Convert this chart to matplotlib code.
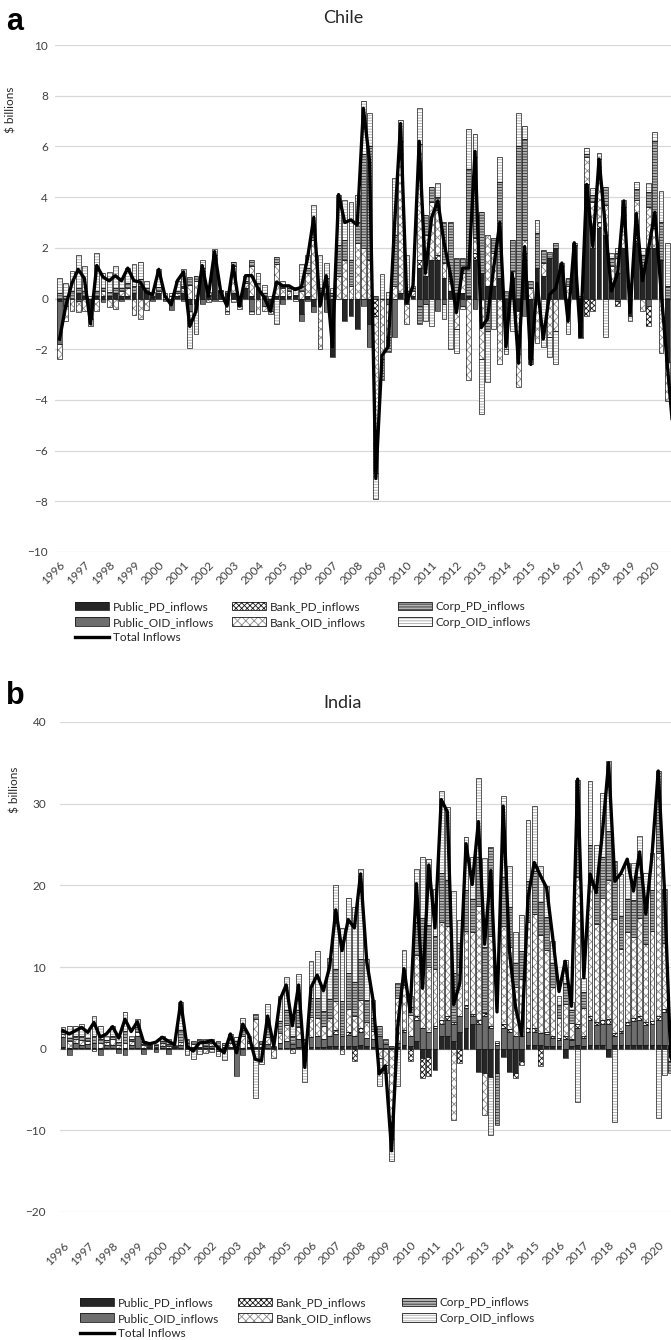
import matplotlib.pyplot as plt
from matplotlib.patches import Patch
from matplotlib.lines import Line2D
import numpy as np

plt.rcParams['font.family'] = ['Lato', 'DejaVu Sans']
plt.rcParams['hatch.linewidth'] = 0.6

year_labels = [str(y) for y in range(1996, 2021)]
series_names = ['Public_PD_inflows', 'Public_OID_inflows', 'Bank_PD_inflows',
                'Bank_OID_inflows', 'Corp_PD_inflows', 'Corp_OID_inflows']

#------------------------------------------------------------------------------
# Chile, quarterly 1996Q1-2020Q4, $ billions
chile_public_pd = [
    -0.1, 0, 0, 0.2, 0.1, -0.8, 0.1, 0.1, 0.1, 0.2,
    0.1, 0.1, 0.2, 0.5, 0.3, 0.05, 0.2, 0, 0, 0.1,
    0.2, -0.2, -0.2, 1.0, 0.1, 1.5, 0.3, 0.2, 0.2, -0.3,
    0.4, 0.1, 0.4, 0.1, -0.3, 0.1, 0.1, 0.1, 0.1, -0.6,
    0.1, -0.3, 0.1, 0.2, -2.3, 0, -0.9, -0.7, -1.2, 0,
    -1.0, 0, 0, 0, 0, 0.2, -0.2, 0.1, 1.2, 0.9,
    1.5, 1.5, 0.8, 0.3, 0.2, 0.2, 0.1, 1.5, 1.0, 0.5,
    0.5, 0.8, -1.5, 0.8, -0.5, 1.5, -2.4, 1.2, 0.9, 1.6,
    2.0, 1.3, -0.2, 2.1, -1.5, 4.5, 2.0, 2.8, 2.5, 0.5,
    1.0, 2.0, -0.7, 2.2, 1.2, 2.0, 2.0, 1.5, -2.5, -3.0]
chile_public_oid = [
    -1.7, -0.3, 0, -0.1, 0, 0, 0, -0.15, 0, 0,
    -0.1, 0, 0, 0, 0, -0.1, 0, -0.1, -0.45, 0,
    -0.1, -0.3, 0, -0.2, 0, -0.1, 0, 0, 0, 0,
    0, -0.5, 0, -0.3, -0.2, 0, -0.2, 0, 0, -0.3,
    -0.1, -0.25, -0.1, -0.55, 0, 0, 0, 0, 0, -0.3,
    -0.9, 0.1, 0, -0.2, -1.5, 0, 0, 0, -0.3, -0.2,
    0, -0.5, -0.2, 0, 0, -0.3, 0, -0.4, 0, 0,
    0, 0, 0, 0, 0, -0.7, 0, 0, 0, 0,
    0, 0, 0, 0, 0, 0, 0, 0, 0, 0,
    -0.1, 0, 0, 0, 0, -0.3, 0, 0, 0, 0]
chile_bank_pd = [
    0, 0, 0, 0, 0, 0, 0, 0, 0, 0,
    0, 0, 0, 0, 0, 0, 0, 0, 0, 0,
    0, 0, 0, 0, 0, 0, 0, 0, 0, 0,
    0, 0, 0, 0, 0, 0, 0, 0, 0, 0,
    0, 0, 0, 0, 0, 0, 0, 0, 0, 0,
    0, -0.7, 0, 0, 0, 0, 0, 0, 0.3, 0,
    0, 0.2, 0, 0, 0, 0, 0, 0.3, 0, 0,
    0, 0, 0, 0, 0, 0.3, 0, 0, 0, 0,
    0, 0, 0, 0, 0, -0.7, -0.5, 0.2, 0, 0,
    -0.2, 0, 0, 0.2, 0, -0.8, 0, 0, 0, 0]
chile_bank_oid = [
    -0.6, -0.6, -0.5, -0.45, -0.5, -0.3, -0.5, 0.2, -0.35, -0.4,
    0.2, 0.3, -0.65, -0.8, -0.45, 0, 0.1, 0.05, 0.1, 0.1,
    0.2, 0.55, 0.7, 0.1, -0.15, 0.1, -0.1, -0.5, 1.1, -0.1,
    0.2, 1.2, -0.6, -0.2, -0.1, 1.25, 0.3, 0.2, -0.1, 0.3,
    0.9, 2.3, -1.9, 0.3, 0.1, 0.9, 1.5, 0.5, 2.2, 2.0,
    1.5, -5.0, -2.4, -1.3, 0.5, 5.5, -0.8, 0.2, 4.6, 1.6,
    2.3, 1.8, 0.6, 0.4, -1.2, 0.8, -3.2, 0.6, -2.4, 2.0,
    1.3, -2.6, -0.5, 0.3, -3.0, 0.5, 0.4, -1.75, 0.5, -1.5,
    -1.3, 0, 0.5, 0, 0, 1.1, 1.8, 2.2, 1.2, 0.8,
    0.6, 1.3, 0.2, 1.5, -0.5, 1.6, 0.8, -2.15, -1.55, -2.0]
chile_corp_pd = [
    0.2, 0.1, 0.3, 0.2, 0.2, 0, 0.2, 0.1, 0.15, 0.2,
    0.1, 0.2, 0.3, 0.25, 0.1, 0.05, 0.15, 0.05, 0, 0.1,
    0.1, 0.3, 0.2, 0.1, 0.05, 0.1, 0.05, 0.1, 0.15, 0.05,
    0.1, 0.2, 0.2, 0.1, 0, 0.3, 0.1, 0.1, 0.05, 0.2,
    0.2, 0.4, 0.3, 0.3, 0.1, 1.2, 0.8, 1.0, 0.8, 3.7,
    4.5, -1.2, -0.8, -0.6, 2.0, 0.5, 0.3, 0.1, -0.7, 0.8,
    0.6, 0.5, 1.6, 2.3, 1.4, 0.6, 5.0, 3.2, 2.4, -1.3,
    0.6, 3.8, 0.3, 1.2, 6.0, 4.0, 0.3, 1.4, 0.5, 0.25,
    0.2, 0.1, 0.3, 0.1, 0.1, 0.1, 0.3, 0.3, 0.7, 0.3,
    0.2, 0.3, 0.1, 0.4, 0.5, 0.6, 3.4, 1.5, 0.5, -0.5]
chile_corp_oid = [
    0.6, 0.5, 0.8, 1.3, 1.0, 0.1, 1.5, 0.6, 0.8, 0.9,
    0.4, 0.6, 0.85, 0.7, 0.3, 0.15, 0.7, 0.1, 0.1, 0.4,
    0.65, -1.45, -1.2, 0.3, 0.1, 0.25, 0, -0.1, -0.15, 0.05,
    0.2, -0.1, 0.4, 0.35, 0.1, -1.0, 0.2, 0.1, 0.3, 0.85,
    0.5, 1.0, 1.3, 0.6, 0.2, 2.0, 1.6, 2.3, 1.1, 2.1,
    1.3, -1.0, 0.95, 0.25, 2.25, 0.85, 1.4, 0.1, 1.4, -0.7,
    -1.1, 0.55, -0.6, -2.0, -0.95, -0.1, 1.6, 0.9, -2.15, -2.0,
    -1.2, 1.0, -0.2, -1.3, 1.3, 0.5, -0.2, 0.5, -1.9, -0.8,
    -1.3, 0, -1.2, 0, -0.05, 0.25, 0.25, 0.25, -1.5, 0.2,
    0.2, 0.3, -0.2, 0.3, 0.3, 0.35, 0.35, 1.25, 1.7, 0.2]
chile_total = [
    -1.6, -0.3, 0.6, 1.15, 0.8, -1.0, 1.3, 0.85, 0.7, 0.9,
    0.7, 1.2, 0.7, 0.65, 0.25, 0.15, 1.15, 0.1, -0.25, 0.7,
    1.05, -1.1, -0.5, 1.3, 0.1, 1.85, 0.25, -0.3, 1.3, -0.3,
    0.9, 0.9, 0.4, 0.05, -0.5, 0.65, 0.5, 0.5, 0.35, 0.45,
    1.6, 3.2, -0.3, 0.9, -1.9, 4.1, 3.0, 3.1, 2.9, 7.5,
    5.4, -7.1, -2.25, -1.9, 2.8, 6.9, -0.15, 0.5, 6.2, 1.0,
    3.2, 3.85, 2.2, 1.0, -0.55, 1.2, 1.2, 5.8, -1.15, -0.8,
    1.2, 3.0, -1.9, 1.0, -2.55, 2.05, -2.6, 0.6, -1.6, 0.15,
    0.4, 1.4, -0.9, 2.2, -1.5, 4.5, 2.05, 5.5, 2.85, 0.3,
    1.0, 3.85, -0.55, 3.35, 0.7, 2.0, 3.4, 0.3, -2.6, -5.4]

#------------------------------------------------------------------------------
# India, quarterly 1996Q1-2020Q4, $ billions
india_public_pd = [
    0.2, 0.1, 0.1, 0.1, 0.1, 0.1, 0.1, 0.1, 0.1, 0.1,
    0.1, 0.1, 0.1, 0.1, 0.05, 0.05, 0.1, 0.05, 0.05, 0.1,
    0.05, 0.05, 0.05, 0.05, 0.05, 0.05, 0.05, 0.05, 0.05, 0.05,
    0.05, 0.05, 0.05, 0.1, 0.05, 0.1, 0.1, 0.1, 0.2, 0.1,
    0.2, 0.2, 0.2, 0.3, 0.3, 0.3, 0.3, 0.3, 0.4, 0.3,
    0.2, 0.1, 0.1, 0.1, 0.2, 0.5, 0.3, 1.0, -1.2, -1.0,
    -2.6, 1.5, 1.5, 1.0, 2.0, 2.5, 3.0, -2.8, -3.0, -3.5,
    -3.0, -1.0, -2.8, -3.0, -1.5, 0.5, 0.5, 0.4, 0.3, 0.3,
    0.3, -1.2, 0.3, 0.5, 0.3, 0.5, 0.4, 0.5, -1.0, 0.5,
    0.4, 0.4, 0.4, 0.5, 0.4, 0.5, 0.5, 0.5, 0.1, 0.0]
india_public_oid = [
    1.2, -0.8, 0.6, 0.4, 0.5, 0.6, -0.8, 0.3, 0.4, -0.5,
    -0.8, 0.3, 1.5, -0.7, 0.1, -0.4, 0.2, -0.7, 0.1, 0.3,
    0.2, 0.1, 0.2, 0.3, 0.3, -0.3, 0.1, 0.2, -3.3, -0.8,
    0.2, 0.2, 0.2, 0.5, 0.1, 0.6, 0.8, 0.5, 1.0, 0.3,
    1.2, 1.3, 1.0, 1.2, 1.5, 1.2, 1.4, 1.2, 1.6, 1.0,
    1.0, 1.5, 0.5, 0.2, 0.5, 1.5, 1.3, 2.5, 2.5, 2.0,
    2.5, 1.5, 2.0, 2.0, 2.0, 2.5, 1.0, 3.0, 4.0, 2.5,
    0.5, 2.5, 2.0, 1.5, 1.5, 1.5, 1.5, 1.5, 1.5, 1.0,
    0.8, 1.2, 0.8, 2.0, 1.0, 3.0, 2.5, 2.5, 3.0, 1.0,
    1.5, 2.5, 3.0, 3.0, 2.5, 2.5, 3.0, 4.0, 0.4, 0.3]
india_bank_pd = [
    0, 0, 0, 0, 0, 0, 0, 0, 0, 0,
    0, 0, 0, 0, 0, 0, 0, 0, 0, 0,
    0, 0, 0, 0, 0, 0, 0, 0, 0, 0,
    0, 0, 0, 0, 0, 0, 0, 0, 0, 0,
    0, 0, 0, 0, 0.5, 0, 0.3, -1.5, 0.5, 0,
    0, 0, 0, 0, 0, 0.3, -1.5, 0.5, -2.4, -2.4,
    0.3, 0.5, 0.5, 0.3, -1.7, 0.4, 0.3, 0.5, 0.4, 0.3,
    0.2, 0.5, 0.4, -0.6, -0.5, 0.5, 0.5, -2.1, 0.3, 0.2,
    0.2, 0.3, 0.1, 0.5, 0.2, 0.5, 0.4, 0.5, 0.6, 0.4,
    0.3, 0.4, 0.3, 0.5, 0.4, 0.4, 0.5, 0.4, 0, 0]
india_bank_oid = [
    0.4, 0.8, 0.5, 0.6, 0.3, -0.3, 0.6, 0.4, 0.7, 0.3,
    0.6, 0.5, 0.4, 0.3, 0.2, 0.2, 0.4, 0.3, 0.1, 0.4,
    0.5, 0.4, 0.5, -0.5, 0.3, 0.3, 0.3, 0.5, 0.5, 1.5,
    0.4, 3.4, 0.3, 0.8, -1.1, 1.2, 2.0, -0.5, 1.5, 0.3,
    2.5, 2.2, 1.6, 2.2, 3.5, -0.7, 2.8, 2.5, 3.5, 2.0,
    1.0, -1.2, -2.0, -9.0, 5.5, 5.5, 2.5, 7.5, 8.5, 8.0,
    7.0, 12.0, 11.0, -8.75, 6.0, 9.0, 10.0, 14.0, -5.1, 11.0,
    0.3, 12.0, 10.0, 6.0, 7.0, 13.0, 14.0, 12.0, 10.0, 6.0,
    2.5, 4.0, 2.0, 18.0, 3.5, 16.0, 12.0, 15.0, 17.0, 14.0,
    10.0, 11.0, 10.0, 12.0, 9.5, 11.0, 20.0, 8.0, -1.5, -2.0]
india_corp_pd = [
    0.3, 0.4, 0.4, 0.5, 0.4, 0.8, 0.5, 0.3, 0.4, 0.4,
    1.5, 0.3, 0.6, 0.2, 0.15, 0.15, 0.3, 0.25, 0.1, 1.5,
    0.45, 0.35, 0.45, 0.35, 0.55, 0.65, 0.25, 0.4, 0.35, 0.75,
    0.35, 0.6, 0.4, 1.2, 0.15, 1.5, 1.8, 1.0, 2.0, 0.5,
    2.3, 2.5, 1.8, 2.4, 4.0, 4.3, 4.5, 4.2, 5.0, 2.7,
    1.5, 1.2, 0.6, -2.0, 1.8, 1.8, 1.0, 4.0, 5.0, 5.2,
    4.0, 6.0, 5.6, 6.0, 3.0, 5.0, 4.0, 6.0, 8.0, 10.9,
    -6.4, 6.0, 5.0, 3.0, 3.5, 5.0, 5.2, 4.0, 4.0, 3.0,
    1.5, 2.5, 1.5, 11.9, 2.0, 5.0, 4.5, 5.0, 6.0, 7.1,
    4.0, 4.0, 4.5, 5.0, 4.5, 5.0, 10.0, 6.7, -1.5, -1.5]
india_corp_oid = [
    0.5, 1.5, 1.2, 1.4, 0.9, 2.5, 1.6, 0.5, 1.2, 0.8,
    2.25, 0.4, 1.0, 0.35, 0.2, 0.2, 0.6, 0.6, 0.15, 3.4,
    -0.8, -1.3, -0.6, 0.5, -0.4, -0.6, -1.4, 0.7, 0.5, 1.5,
    0.6, -6.0, -1.85, 2.9, 0.0, 3.1, 4.1, 2.4, 4.5, -4.1,
    4.5, 5.7, 3.2, 5.0, 10.2, 9.0, 9.2, 9.1, 11.0, 5.0,
    2.2, -3.4, -1.0, -2.8, -4.6, 2.5, 1.4, 6.5, 7.5, 8.0,
    5.7, 10.0, 9.0, 10.0, 2.8, 6.5, 5.2, 9.6, 11.0, -7.1,
    0.0, 10.0, 5.0, 3.8, 4.4, 7.5, 8.0, 4.5, 3.8, 2.7,
    1.2, 2.9, 1.0, -6.5, 1.7, 7.8, 5.1, 7.8, 8.6, -9.0,
    5.2, 4.4, 4.5, 5.1, 4.2, 4.5, -8.5, -3.2, 0.0, 0.0]
india_total = [
    2.2, 1.8, 2.2, 2.6, 2.0, 3.2, 1.4, 1.8, 2.7, 1.3,
    3.6, 2.1, 3.3, 0.8, 0.6, 0.8, 1.4, 0.9, 0.5, 5.7,
    0.3, -0.3, 0.7, 0.8, 1.0, 0.1, -0.5, 1.8, -0.5, 3.0,
    1.6, -1.3, -1.5, 4.0, 0.3, 6.0, 7.8, 2.8, 7.8, -2.3,
    7.5, 9.0, 7.1, 10.0, 17.0, 12.0, 15.8, 14.8, 21.4, 10.6,
    6.0, -3.1, -2.1, -12.5, 2.8, 9.8, 4.5, 20.2, 7.4, 22.5,
    14.8, 30.5, 29.0, 5.4, 8.0, 25.1, 20.1, 27.8, 12.8, 21.8,
    4.5, 29.7, 12.0, 5.0, 1.6, 18.5, 22.8, 21.2, 19.7, 13.5,
    7.0, 10.7, 5.2, 33.0, 8.7, 21.4, 19.1, 26.5, 35.0, 20.5,
    21.5, 23.2, 19.3, 24.1, 16.5, 23.7, 34.0, 19.5, -1.0, -3.0]

# fill, hatch, hatch colour for each component
styles = {
    'Public_PD_inflows':  ('#262626', None, '#262626'),
    'Public_OID_inflows': ('#6e6e6e', None, '#6e6e6e'),
    'Bank_PD_inflows':    ('white', 'xxxxxx', '#151515'),
    'Bank_OID_inflows':   ('white', 'xxxx', '#8c8c8c'),
    'Corp_PD_inflows':    ('#b4b4b4', '------', '#2e2e2e'),
    'Corp_OID_inflows':   ('white', '------', '#a6a6a6'),
}
TXT = '#404040'


#------------------------------------------------------------------------------
def panel(ax, parts, total, ylo, yhi, step, xlim, ypad, xpad):
    x = np.arange(len(total))
    pos = np.zeros(len(total))
    neg = np.zeros(len(total))
    for name, vals in zip(series_names, parts):
        v = np.array(vals, dtype=float)
        base = np.where(v >= 0, pos, neg)
        m = v != 0
        face, hatch, hcol = styles[name]
        ax.bar(x[m], v[m], 0.78, bottom=base[m], color=face, edgecolor=hcol,
               hatch=hatch, linewidth=0, zorder=2)
        ax.bar(x[m], v[m], 0.78, bottom=base[m], fill=False,
               edgecolor='#1a1a1a', linewidth=0.5, zorder=2.1)
        pos += np.where(v > 0, v, 0)
        neg += np.where(v < 0, v, 0)
    ax.plot(x, total, color='black', lw=2.4, zorder=3, solid_joinstyle='round')

    ax.set_xlim(*xlim)
    ax.set_ylim(ylo, yhi)
    ax.set_yticks(np.arange(ylo, yhi + step, step))
    ax.yaxis.grid(True, color='#d9d9d9', lw=0.9, zorder=0)
    ax.axhline(0, color='#c8c8c8', lw=0.9, zorder=1.5)
    ax.set_axisbelow(True)
    ax.set_xticks(np.arange(0, 100, 4))
    ax.set_xticklabels(year_labels, rotation=45, ha='right',
                       rotation_mode='anchor', fontsize=8.5, color=TXT)
    ax.tick_params(length=0, labelsize=8.5, labelcolor=TXT)
    ax.tick_params(axis='y', pad=ypad)
    ax.tick_params(axis='x', pad=xpad)
    for s in ax.spines.values():
        s.set_visible(False)
#------------------------------------------------------------------------------


def legend_handles():
    hs = []
    for name in series_names:
        face, hatch, hcol = styles[name]
        h1 = Patch(facecolor=face, edgecolor=hcol, hatch=hatch, lw=0)
        h2 = Patch(fill=False, edgecolor='#1a1a1a', lw=0.6)
        hs.append((h1, h2))
    return hs


def legend(fig, y0, cols):
    hs = legend_handles()
    line = Line2D([], [], color='black', lw=2.4)
    groups = [([hs[0], hs[1], line], [series_names[0], series_names[1], 'Total Inflows']),
              ([hs[2], hs[3]], [series_names[2], series_names[3]]),
              ([hs[4], hs[5]], [series_names[4], series_names[5]])]
    for cx, (h, l) in zip(cols, groups):
        fig.legend(h, l, loc='upper left', bbox_to_anchor=(cx / 671, 1 - y0 / 1340),
                   frameon=False, fontsize=8.5, handlelength=2.9, handleheight=0.75,
                   handletextpad=0.3, labelspacing=0.4, borderpad=0,
                   borderaxespad=0, labelcolor='#262626')


W, H = 671, 1340
fig = plt.figure(figsize=(W / 100, H / 100), dpi=100)

ax1 = fig.add_axes([55 / W, 1 - 552 / H, 616 / W, 507 / H])
panel(ax1, [chile_public_pd, chile_public_oid, chile_bank_pd, chile_bank_oid,
            chile_corp_pd, chile_corp_oid], chile_total, -10, 10, 2,
      (-0.73, 98.6), 5, 5)

ax2 = fig.add_axes([60 / W, 1 - 1212 / H, 611 / W, 490 / H])
panel(ax2, [india_public_pd, india_public_oid, india_bank_pd, india_bank_oid,
            india_corp_pd, india_corp_oid], india_total, -20, 40, 10,
      (-0.48, 98.06), 10, 20)

fig.text(6 / W, 1 - 22 / H, 'a', fontsize=22, fontweight='bold',
         family='Liberation Sans', va='center', ha='left')
fig.text(6 / W, 1 - 696 / H, 'b', fontsize=22, fontweight='bold',
         family='Liberation Sans', va='center', ha='left')
fig.text(343 / W, 1 - 18 / H, 'Chile', fontsize=13, color='#262626',
         ha='center', va='center')
fig.text(343 / W, 1 - 703 / H, 'India', fontsize=13, color='#262626',
         ha='center', va='center')
fig.text(11 / W, 1 - 110 / H, '$ billions', rotation=90, fontsize=8.5,
         color='#262626', ha='center', va='center')
fig.text(15 / W, 1 - 790 / H, '$ billions', rotation=90, fontsize=8.5,
         color='#262626', ha='center', va='center')

legend(fig, 601, [75, 232, 398])
legend(fig, 1297, [80, 238, 402])

fig.savefig('out.png', dpi=100)
